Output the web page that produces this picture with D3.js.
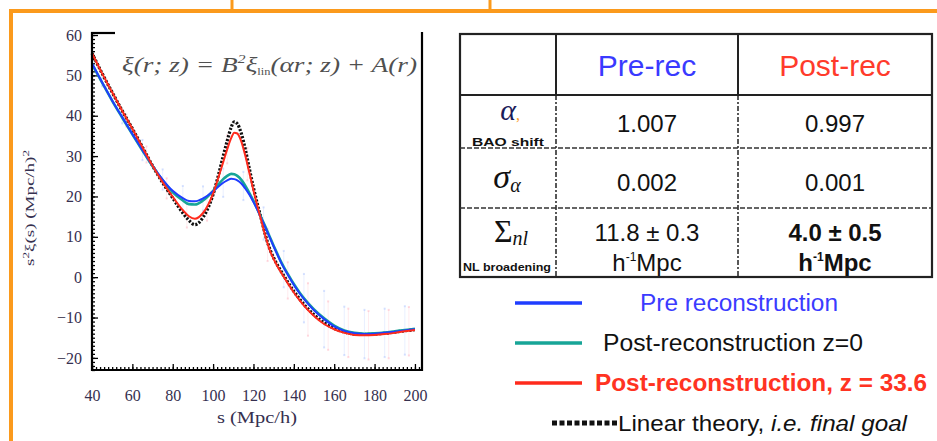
<!DOCTYPE html>
<html><head><meta charset="utf-8">
<script src="https://cdn.jsdelivr.net/npm/d3@7"></script>
<style>
body{margin:0;background:#fff}
svg{display:block}
</style>
</head><body>
<svg id="c" width="937" height="441"></svg>
<script>
// ---- correlation function curves, s (Mpc/h) vs s^2 xi(s) ----
const sGrid = [40,45,50,55,60,65,70,75,80,85,88,91,95,100,103,105,107,109,110.5,112,114,116,118,120,122,124,126,128,130,132,134,137,140,143,146,150,155,160,165,170,175,180,185,190,195,200];
const linearTheory = [55.5,50.5,45.8,41.2,36.8,32.2,27.6,23.4,19.6,15.9,14.1,13.0,14.8,20.5,26.0,30.0,33.8,37.2,38.5,38.0,35.6,31.6,26.8,22.2,18.0,14.2,10.3,7.1,4.8,2.9,1.2,-1.2,-3.5,-5.5,-7.3,-9.3,-11.3,-12.7,-13.6,-14.1,-14.2,-14.1,-13.9,-13.6,-13.3,-13.0];
const postRecZ336 = [55.5,50.5,45.8,41.2,36.8,32.2,27.6,23.5,19.9,16.6,15.1,14.5,15.9,20.7,25.3,28.5,31.7,34.5,35.8,35.6,33.6,30.0,25.8,21.5,17.5,13.8,10.0,6.8,4.5,2.6,0.9,-1.5,-3.8,-5.8,-7.6,-9.6,-11.6,-12.9,-13.8,-14.3,-14.4,-14.3,-14.1,-13.8,-13.4,-13.1];
const preRec = [53.0,48.3,43.8,39.6,35.5,31.5,27.6,24.2,21.4,19.6,18.9,18.8,19.5,21.3,22.6,23.4,24.0,24.4,24.3,24.0,23.2,21.9,20.4,18.6,16.6,14.4,12.2,9.9,7.6,5.4,3.3,0.6,-1.9,-4.1,-6.0,-8.2,-10.4,-12.2,-13.3,-13.9,-14.1,-14.0,-13.8,-13.5,-13.2,-12.9];
const postRecZ0 = [52.8,48.2,43.7,39.5,35.4,31.4,27.5,24.0,21.0,19.0,18.1,18.0,19.0,21.4,23.2,24.3,25.1,25.6,25.5,25.1,24.1,22.6,20.8,18.9,16.8,14.6,12.4,10.1,7.8,5.6,3.5,0.8,-1.7,-3.9,-5.8,-8.0,-10.2,-12.0,-13.2,-13.8,-14.0,-13.9,-13.7,-13.4,-13.1,-12.8];

// faint measurement error bars
const errS      = [45,55,65,75,85,95,105,115,125,135,145,155,165,175,185,195];
const preErrC   = [48.3,39.6,31.5,24.2,19.6,19.5,23.4,22.6,13.3,2.0,-5.2,-10.4,-13.3,-14.1,-13.8,-13.2];
const preErrH   = [1,1.5,2.5,2.5,3,3,3.5,3.5,4,4.5,6,7,6,6,6,6];
const postErrS  = [47,57,67,77,87,97,107,117,127,137,147,157,167,177,187,197];
const postErrC  = [48.0,38.8,30.4,22.0,15.3,17.0,31.7,28.0,8.0,-0.8,-8.0,-12.0,-13.8,-14.4,-14.1,-13.4];
const postErrH  = [1,1.5,2,2.5,3,3,3.5,4,4,4.5,6.5,6,6,6,6,6];

// axis ticks
const xTicks = [40,60,80,100,120,140,160,180,200];
const yTicks = [-20,-10,0,10,20,30,40,50,60];

// fit table
const colHeads = ["Pre-rec","Post-rec"];
const alphaVals = ["1.007","0.997"];
const sigmaAlphaVals = ["0.002","0.001"];
const sigmaNLVals = ["11.8 ± 0.3","4.0 ± 0.5"];
const sigmaNLUnit = "Mpc";

// legend
const legendNames = ["Pre reconstruction","Post-reconstruction z=0","Post-reconstruction, z = 33.6"];
const legendColors = ["#1f3dff","#17a597","#ff2a1c"];
const legendTextColors = ["#3b3bff","#111","#ff3322"];

const svg = d3.select("#c");
const ORANGE = "#fb9a1c";
const serif = "'Liberation Serif','DejaVu Serif',serif";
const sans = "'Liberation Sans',Arial,sans-serif";

// ---- slide frame ----
svg.append("line").attr("x1",9).attr("x2",937).attr("y1",11).attr("y2",11).attr("stroke",ORANGE).attr("stroke-width",4);
svg.append("line").attr("x1",11).attr("x2",11).attr("y1",9).attr("y2",441).attr("stroke",ORANGE).attr("stroke-width",4);
[232,490].forEach(x=>svg.append("line").attr("x1",x).attr("x2",x).attr("y1",0).attr("y2",10).attr("stroke",ORANGE).attr("stroke-width",3));

// ---- plot ----
const x = d3.scaleLinear().domain([40,203.5]).range([92,422]);
const y = d3.scaleLinear().domain([-23,60.5]).range([370,33]);

const g = svg.append("g");
const tickColor = "#36304f";

// error bars (drawn first, very faint)
const eb = g.append("g");
function bars(cls, sArr, cArr, hArr, col){
  eb.selectAll("."+cls).data(sArr).join("line").attr("class",cls)
    .attr("x1",d=>x(d)).attr("x2",d=>x(d))
    .attr("y1",(d,i)=>y(cArr[i]-hArr[i])).attr("y2",(d,i)=>y(cArr[i]+hArr[i]))
    .attr("stroke",col).attr("stroke-width",1).attr("opacity",0.18);
  eb.selectAll("."+cls+"t").data(sArr.flatMap((d,i)=>[[d,cArr[i]-hArr[i]],[d,cArr[i]+hArr[i]]]))
    .join("rect").attr("class",cls+"t")
    .attr("x",d=>x(d[0])-1).attr("y",d=>y(d[1])-1).attr("width",2).attr("height",2)
    .attr("fill",col).attr("opacity",0.35);
}
bars("pe", errS, preErrC, preErrH, "#8fb0ff");
bars("qe", postErrS, postErrC, postErrH, "#ff98aa");

// minor ticks
g.append("g").attr("transform","translate(92,0)")
  .call(d3.axisLeft(y).tickValues(d3.range(-23,61,1)).tickSize(-3).tickFormat(""))
  .call(a=>{a.select(".domain").remove();a.selectAll("line").attr("stroke","#000").attr("stroke-width",1.3);});
g.append("g").attr("transform","translate(0,370)")
  .call(d3.axisBottom(x).tickValues(d3.range(40,204,2)).tickSize(-3).tickFormat(""))
  .call(a=>{a.select(".domain").remove();a.selectAll("line").attr("stroke","#000").attr("stroke-width",1.3);});

// major ticks + labels
g.append("g").attr("transform","translate(92,0)")
  .call(d3.axisLeft(y).tickValues(yTicks).tickSize(-6).tickPadding(10))
  .call(a=>{a.select(".domain").remove();
    a.selectAll("line").attr("stroke","#000").attr("stroke-width",1.3);
    a.selectAll("text").attr("font-family",serif).attr("font-size",16).attr("fill",tickColor);});
g.append("g").attr("transform","translate(0,370)")
  .call(d3.axisBottom(x).tickValues(xTicks).tickSize(-6).tickPadding(20))
  .call(a=>{a.select(".domain").remove();
    a.selectAll("line").attr("stroke","#000").attr("stroke-width",1.3);
    a.selectAll("text").attr("font-family",serif).attr("font-size",16).attr("fill",tickColor);});

// curves
const line = d3.line().x(d=>x(d[0])).y(d=>y(d[1])).curve(d3.curveMonotoneX);
const pts = vals => sGrid.map((s,i)=>[s,vals[i]]);
g.append("path").attr("d",line(pts(linearTheory))).attr("fill","none")
  .attr("stroke","#111").attr("stroke-width",3.2).attr("stroke-dasharray","2.2,1.6");
g.append("path").attr("d",line(pts(postRecZ0))).attr("fill","none")
  .attr("stroke",legendColors[1]).attr("stroke-width",2.6);
g.append("path").attr("d",line(pts(preRec))).attr("fill","none")
  .attr("stroke",legendColors[0]).attr("stroke-width",2);
g.append("path").attr("d",line(pts(postRecZ336))).attr("fill","none")
  .attr("stroke",legendColors[2]).attr("stroke-width",2);

// frame (top edge is interrupted by the model equation)
const fr = g.append("g").attr("stroke","#000").attr("stroke-width",2.2);
fr.append("line").attr("x1",92).attr("x2",92).attr("y1",32).attr("y2",371);
fr.append("line").attr("x1",91).attr("x2",423).attr("y1",370).attr("y2",370);
fr.append("line").attr("x1",422).attr("x2",422).attr("y1",32).attr("y2",371);
fr.append("line").attr("x1",91).attr("x2",115).attr("y1",33).attr("y2",33);

// model equation
const eq = g.append("text").attr("x",122).attr("y",72).attr("font-family",serif)
  .attr("font-size",22).attr("font-style","italic").attr("fill","#505050")
  .attr("textLength",295).attr("lengthAdjust","spacingAndGlyphs");
eq.append("tspan").text("ξ(r; z) = B");
eq.append("tspan").attr("font-size",13).attr("dy",-9).text("2");
eq.append("tspan").attr("dy",9).text("ξ");
eq.append("tspan").attr("font-size",10).attr("font-style","normal").attr("dy",3).text("lin");
eq.append("tspan").attr("dy",-3).text("(αr; z) + A(r)");

// axis titles
const yt = g.append("text").attr("transform","translate(34,208) rotate(-90)")
  .attr("text-anchor","middle").attr("font-family",serif).attr("font-size",13).attr("fill",tickColor)
  .attr("textLength",116).attr("lengthAdjust","spacingAndGlyphs");
yt.append("tspan").text("s");
yt.append("tspan").attr("font-size",9).attr("dy",-5).text("2");
yt.append("tspan").attr("dy",5).text("ξ(s) (Mpc/h)");
yt.append("tspan").attr("font-size",9).attr("dy",-5).text("2");
g.append("text").attr("x",257).attr("y",423).attr("text-anchor","middle")
  .attr("font-family",serif).attr("font-size",16).attr("fill",tickColor)
  .attr("textLength",80).attr("lengthAdjust","spacingAndGlyphs").text("s (Mpc/h)");

// ---- fit table ----
const T = {l:460, r:932, t:34, b:277, h:95, r1:148, r2:208, c1:556, c2:738};
const colCx = [(T.c1+T.c2)/2, (T.c2+T.r)/2];
const tg = svg.append("g");
tg.append("rect").attr("x",T.l).attr("y",T.t).attr("width",T.r-T.l).attr("height",T.b-T.t)
  .attr("fill","none").attr("stroke","#222").attr("stroke-width",2.2);
tg.append("line").attr("x1",T.l).attr("x2",T.r).attr("y1",T.h).attr("y2",T.h).attr("stroke","#222").attr("stroke-width",2.2);
[T.c1,T.c2].forEach(cx=>{
  tg.append("line").attr("x1",cx).attr("x2",cx).attr("y1",T.t).attr("y2",T.h).attr("stroke","#222").attr("stroke-width",2);
  tg.append("line").attr("x1",cx).attr("x2",cx).attr("y1",T.h).attr("y2",T.b).attr("stroke","#222").attr("stroke-width",1.5).attr("stroke-dasharray","5,2,2,2");
});
[T.r1,T.r2].forEach(ry=>tg.append("line").attr("x1",T.l).attr("x2",T.r).attr("y1",ry).attr("y2",ry)
  .attr("stroke","#333").attr("stroke-width",1.5).attr("stroke-dasharray","5,2"));

tg.selectAll(".hd").data(colHeads).join("text")
  .attr("x",(d,i)=>colCx[i]).attr("y",76).attr("text-anchor","middle")
  .attr("font-family",sans).attr("font-size",30).attr("fill",(d,i)=>i?"#ff3b2b":"#3a3aff").text(d=>d);
tg.selectAll(".av").data(alphaVals).join("text")
  .attr("x",(d,i)=>colCx[i]).attr("y",132).attr("text-anchor","middle")
  .attr("font-family",sans).attr("font-size",24).attr("fill","#111").text(d=>d);
tg.selectAll(".sv").data(sigmaAlphaVals).join("text")
  .attr("x",(d,i)=>colCx[i]).attr("y",191).attr("text-anchor","middle")
  .attr("font-family",sans).attr("font-size",24).attr("fill","#111").text(d=>d);
tg.selectAll(".nv").data(sigmaNLVals).join("text")
  .attr("x",(d,i)=>colCx[i]).attr("y",241).attr("text-anchor","middle")
  .attr("font-family",sans).attr("font-size",24).attr("font-weight",(d,i)=>i?"bold":"normal").attr("fill","#111").text(d=>d);
tg.selectAll(".nu").data(sigmaNLVals).join("text")
  .attr("x",(d,i)=>colCx[i]).attr("y",271).attr("text-anchor","middle")
  .attr("font-family",sans).attr("font-size",24).attr("font-weight",(d,i)=>i?"bold":"normal").attr("fill","#111")
  .call(t=>{t.append("tspan").text("h");
    t.append("tspan").attr("font-size",12).attr("dy",-10).text("-1");
    t.append("tspan").attr("dy",10).text(sigmaNLUnit);});

// row labels
const a1 = tg.append("text").attr("x",510).attr("y",120).attr("text-anchor","middle").attr("font-family",serif);
a1.append("tspan").attr("font-size",30).attr("font-style","italic").attr("fill","#1c1c5a").text("α");
a1.append("tspan").attr("font-size",16).attr("fill",ORANGE).text(",");
tg.append("text").attr("x",508).attr("y",146).attr("text-anchor","middle").attr("font-family",sans)
  .attr("font-size",11).attr("font-weight","bold").attr("fill","#111")
  .attr("textLength",72).attr("lengthAdjust","spacingAndGlyphs").text("BAO shift");
const s1 = tg.append("text").attr("x",507).attr("y",188).attr("text-anchor","middle").attr("font-family",serif).attr("fill","#111");
s1.append("tspan").attr("font-size",34).attr("font-style","italic").text("σ");
s1.append("tspan").attr("font-size",20).attr("font-style","italic").attr("dy",4).text("α");
const s2 = tg.append("text").attr("x",511).attr("y",242).attr("text-anchor","middle").attr("font-family",serif).attr("fill","#111");
s2.append("tspan").attr("font-size",32).text("Σ");
s2.append("tspan").attr("font-size",20).attr("font-style","italic").attr("dy",3).text("nl");
tg.append("text").attr("x",507).attr("y",271).attr("text-anchor","middle").attr("font-family",sans)
  .attr("font-size",10).attr("font-weight","bold").attr("fill","#111")
  .attr("textLength",88).attr("lengthAdjust","spacingAndGlyphs").text("NL broadening");

// ---- legend ----
const legY = [303,343,383];
const legX = [640,603,595];
const legW = [198,260,332];
const lg = svg.append("g");
lg.selectAll(".ll").data(legendNames).join("line")
  .attr("x1",515).attr("x2",582).attr("y1",(d,i)=>legY[i]).attr("y2",(d,i)=>legY[i])
  .attr("stroke",(d,i)=>legendColors[i]).attr("stroke-width",3.5);
lg.selectAll(".lt").data(legendNames).join("text")
  .attr("x",(d,i)=>legX[i]).attr("y",(d,i)=>legY[i]+8)
  .attr("font-family",sans).attr("font-size",23).attr("font-weight",(d,i)=>i===2?"bold":"normal")
  .attr("fill",(d,i)=>legendTextColors[i])
  .attr("textLength",(d,i)=>legW[i]).attr("lengthAdjust","spacingAndGlyphs").text(d=>d);
lg.append("line").attr("x1",552).attr("x2",617).attr("y1",423).attr("y2",423)
  .attr("stroke","#111").attr("stroke-width",5).attr("stroke-dasharray","5,2.5");
const lt4 = lg.append("text").attr("x",618).attr("y",431).attr("font-family",sans).attr("font-size",22).attr("fill","#111")
  .attr("textLength",289).attr("lengthAdjust","spacingAndGlyphs");
lt4.append("tspan").text("Linear theory, ");
lt4.append("tspan").attr("font-style","italic").text("i.e. final goal");
</script>
</body></html>
